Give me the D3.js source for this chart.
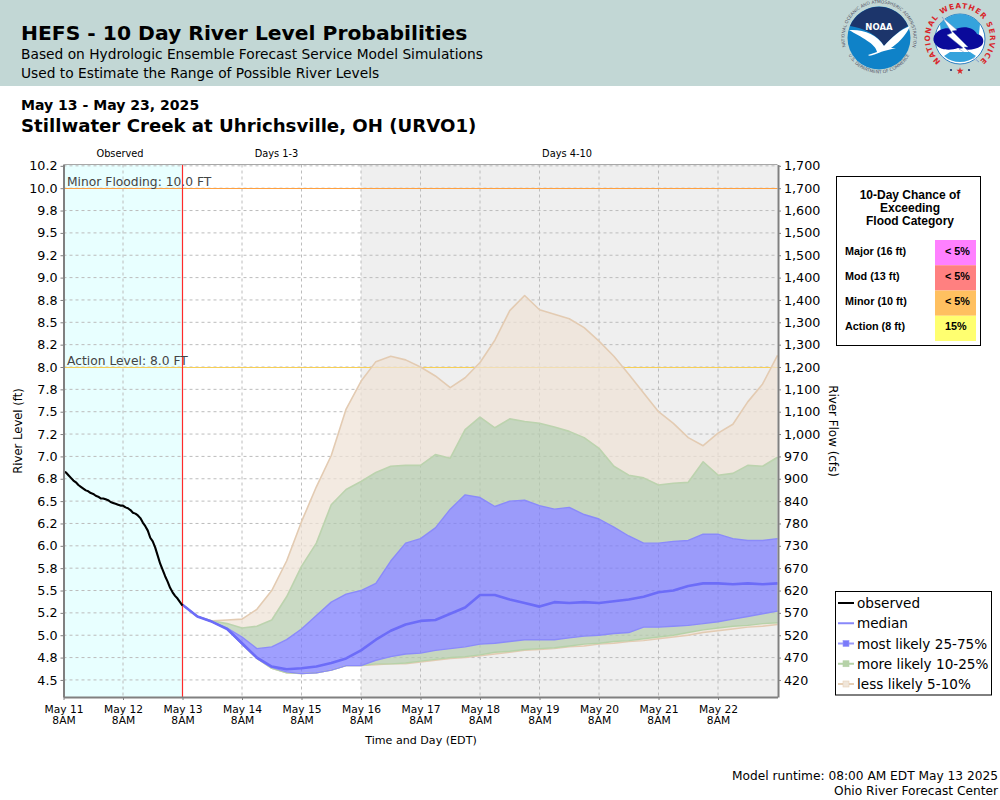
<!DOCTYPE html>
<html>
<head>
<meta charset="utf-8">
<script src="https://cdnjs.cloudflare.com/ajax/libs/d3/7.8.5/d3.min.js"></script>
<style>
html,body{margin:0;padding:0;background:#fff}
svg{display:block;font-family:"DejaVu Sans",sans-serif}
text{fill:#000}
</style>
</head>
<body>
<div id="chart"></div>
<script>
// ---- data ----
const observedHours = d3.range(0, 49);
const observed = [6.83,6.82,6.79,6.76,6.73,6.71,6.68,6.66,6.64,6.62,6.61,6.59,6.58,6.56,6.55,6.53,6.53,6.52,6.51,6.49,6.48,6.47,6.46,6.45,6.45,6.43,6.42,6.40,6.37,6.36,6.34,6.31,6.26,6.22,6.17,6.09,6.05,5.98,5.89,5.80,5.73,5.66,5.60,5.53,5.48,5.44,5.41,5.37,5.33];
const forecastHours = d3.range(48, 289, 6);
const p95 = [5.34,5.21,5.16,5.17,5.18,5.29,5.50,5.83,6.27,6.66,7.01,7.53,7.84,8.06,8.12,8.08,8.00,7.90,7.77,7.88,8.05,8.30,8.63,8.80,8.64,8.59,8.54,8.44,8.29,8.12,7.92,7.71,7.50,7.37,7.21,7.12,7.26,7.36,7.61,7.81,8.13];
const p90 = [5.34,5.21,5.16,5.13,5.08,5.10,5.17,5.43,5.77,6.03,6.46,6.63,6.72,6.82,6.89,6.90,6.90,7.02,6.98,7.30,7.44,7.32,7.42,7.39,7.37,7.33,7.28,7.21,7.09,6.89,6.79,6.76,6.68,6.70,6.71,6.94,6.79,6.81,6.90,6.89,6.99];
const p75 = [5.34,5.21,5.15,5.08,4.98,4.85,4.87,4.95,5.07,5.22,5.37,5.46,5.50,5.58,5.83,6.03,6.08,6.20,6.41,6.57,6.54,6.44,6.50,6.51,6.45,6.41,6.43,6.35,6.30,6.21,6.11,6.03,6.03,6.05,6.06,6.13,6.13,6.08,6.06,6.06,6.08];
const median = [5.34,5.21,5.15,5.07,4.91,4.75,4.65,4.62,4.63,4.65,4.69,4.74,4.83,4.95,5.05,5.12,5.16,5.17,5.24,5.31,5.45,5.45,5.40,5.36,5.32,5.37,5.36,5.37,5.36,5.38,5.40,5.43,5.48,5.50,5.55,5.58,5.58,5.57,5.58,5.57,5.58];
const p25 = [5.34,5.21,5.15,5.07,4.90,4.74,4.64,4.59,4.57,4.58,4.61,4.66,4.66,4.72,4.76,4.79,4.80,4.83,4.85,4.87,4.90,4.91,4.93,4.95,4.95,4.95,4.97,4.99,5.00,5.02,5.03,5.09,5.09,5.10,5.11,5.13,5.15,5.18,5.21,5.24,5.27];
const p10 = [5.34,5.21,5.15,5.07,4.90,4.74,4.63,4.58,4.57,4.58,4.61,4.66,4.66,4.68,4.68,4.69,4.71,4.73,4.75,4.76,4.78,4.81,4.82,4.84,4.85,4.86,4.88,4.90,4.91,4.93,4.94,4.96,4.98,5.00,5.03,5.06,5.08,5.10,5.11,5.13,5.14];
const p5  = [5.34,5.21,5.15,5.07,4.90,4.74,4.63,4.58,4.57,4.58,4.61,4.66,4.66,4.67,4.68,4.68,4.70,4.72,4.74,4.75,4.77,4.79,4.81,4.83,4.84,4.85,4.87,4.88,4.90,4.91,4.93,4.94,4.96,4.98,5.00,5.03,5.05,5.07,5.09,5.10,5.12];

const stageTicks  = [4.5,4.75,5,5.25,5.5,5.75,6,6.25,6.5,6.75,7,7.25,7.5,7.75,8,8.25,8.5,8.75,9,9.25,9.5,9.75,10,10.25];
const stageLabels = ["4.5","4.8","5.0","5.2","5.5","5.8","6.0","6.2","6.5","6.8","7.0","7.2","7.5","7.8","8.0","8.2","8.5","8.8","9.0","9.2","9.5","9.8","10.0","10.2"];
const flowLabels  = ["420","470","520","570","620","670","730","780","840","900","970","1,000","1,100","1,100","1,200","1,300","1,300","1,400","1,400","1,500","1,500","1,600","1,700","1,700"];
const dayHours  = [0,24,48,72,96,120,144,168,192,216,240,264];
const dayLabels = ["May 11","May 12","May 13","May 14","May 15","May 16","May 17","May 18","May 19","May 20","May 21","May 22"];
const legendNames = ["observed","median","most likely 25-75%","more likely 10-25%","less likely 5-10%"];
const floodNames  = ["Major (16 ft)","Mod (13 ft)","Minor (10 ft)","Action (8 ft)"];
const floodChance = ["< 5%","< 5%","< 5%","15%"];
const floodColors = ["#ff80ff","#ff8080","#ffc060","#ffff70"];

// ---- scales ----
const svg = d3.select("#chart").append("svg").attr("width",1000).attr("height",800);
const x = d3.scaleLinear().domain([0,288]).range([63.5,777.5]);
const y = d3.scaleLinear().domain([4.309,10.265]).range([697,164.5]);

// ---- header ----
svg.append("rect").attr("width",1000).attr("height",86).attr("fill","#c2d7d5");
const T=(s,px,py,size,weight,anchor,fam,col)=>svg.append("text").attr("x",px).attr("y",py).attr("font-size",size)
  .attr("font-weight",weight||"normal").attr("text-anchor",anchor||"start").attr("font-family",fam||null).style("fill",col||"#000").text(s);
T("HEFS - 10 Day River Level Probabilities",21,40,20.3,"bold");
T("Based on Hydrologic Ensemble Forecast Service Model Simulations",21,59,13.77);
T("Used to Estimate the Range of Possible River Levels",21,78,13.77);
T("May 13 - May 23, 2025",21,110,14.05,"bold");
T("Stillwater Creek at Uhrichsville, OH (URVO1)",21,132,18.15,"bold");

// ---- logos ----
const noaa = svg.append("g").attr("transform","translate(879,38)");
noaa.append("circle").attr("r",31.5).attr("fill","#0f82c8");
noaa.append("path").attr("d","M-29,-12 A31.5,31.5 0 0 1 29,-12 C22,-9 12,0 5,8 C-2,-4 -16,-10 -29,-12Z").attr("fill","#1c356b");
noaa.append("path").attr("d","M-30,-8 C-16,-9 -2,-4 5,8 C12,0 22,-9 31,-12 C27,-2 18,6 12,10 L17,10 L5,13 C-4,16 -9,19 -11,17 L-2,14 C-3,6 -18,-1 -30,-8Z").attr("fill","#fff");
noaa.append("text").attr("y",-8).attr("text-anchor","middle").attr("font-size",8.5).attr("font-weight","bold").style("fill","#fff").text("NOAA");
noaa.append("defs").append("path").attr("id","noaaTop").attr("d","M-33.5,8 A34.5,34.5 0 1 1 33.5,8");
noaa.append("defs").append("path").attr("id","noaaBot").attr("d","M-31,16 A34.5,34.5 0 0 0 31,16");
noaa.append("text").attr("font-size",4.4).style("fill","#556").append("textPath").attr("href","#noaaTop").attr("startOffset","50%").attr("text-anchor","middle").text("NATIONAL OCEANIC AND ATMOSPHERIC ADMINISTRATION");
noaa.append("text").attr("font-size",4.4).style("fill","#556").append("textPath").attr("href","#noaaBot").attr("startOffset","50%").attr("text-anchor","middle").text("U.S. DEPARTMENT OF COMMERCE");

const nws = svg.append("g").attr("transform","translate(960,39)");
nws.append("circle").attr("r",25).attr("fill","#fff").attr("stroke","#2f7fc0").attr("stroke-width",1);
nws.append("path").attr("d","M-20,-15 A25,25 0 0 1 20,-15 L18,4 L-18,4Z").attr("fill","#35a3dc");
nws.append("path").attr("d","M-26,-3 C-21,-12 -10,-12 -6,-9 C2,-14 14,-12 17,-5 C24,-4 25,4 21,7 C14,12 4,11 -2,9 C-10,12 -20,11 -24,6 C-27,3 -27,0 -26,-3Z").attr("fill","#0a0a9a");
nws.append("path").attr("d","M-18,-22 L-3,-9 L-8,-8 L8,8 L4,8 L19,23 L-1,10 L3,9 L-13,-4 L-8,-6Z").attr("fill","#fff").attr("stroke","#6a8ac0").attr("stroke-width",.5);
nws.append("path").attr("d","M-16,17 A24,24 0 0 0 16,17 L10,13 L-10,13Z").attr("fill","#35a3dc");
nws.append("defs").append("path").attr("id","nwsArc").attr("d","M-17,24 A30,30 0 1 1 17,24");
nws.append("text").attr("font-size",7.4).attr("font-weight","bold").attr("letter-spacing",1).style("fill","#d9252a").append("textPath").attr("href","#nwsArc").attr("startOffset","50%").attr("text-anchor","middle").text("NATIONAL WEATHER SERVICE");
nws.append("path").attr("d",d3.symbol(d3.symbolStar,16)()).attr("transform","translate(0,32)").attr("fill","#d9252a");
nws.selectAll("circle.d").data([-9,9]).join("circle").attr("cx",d=>d).attr("cy",31).attr("r",1.1).attr("fill","#1c356b");

// ---- plot background ----
svg.append("rect").attr("x",x(0)).attr("y",y.range()[1]).attr("width",x(48)-x(0)).attr("height",697-164.5).attr("fill","#e8ffff");
svg.append("rect").attr("x",x(120)).attr("y",y.range()[1]).attr("width",x(288)-x(120)).attr("height",697-164.5).attr("fill","#efefef");

// grid
const gridG = svg.append("g").attr("stroke","#bcbcbc").attr("stroke-width",1).attr("stroke-dasharray","3,3");
gridG.selectAll("line.h").data(stageTicks).join("line").attr("x1",x(0)).attr("x2",x(288)).attr("y1",d=>y(d)).attr("y2",d=>y(d));
gridG.selectAll("line.v").data(dayHours).join("line").attr("x1",d=>x(d)).attr("x2",d=>x(d)).attr("y1",164.5).attr("y2",697);

// threshold lines
svg.append("line").attr("x1",x(0)).attr("x2",x(288)).attr("y1",188.5).attr("y2",188.5).attr("stroke","#ffa040").attr("stroke-width",1);
svg.append("line").attr("x1",x(0)).attr("x2",x(288)).attr("y1",367.5).attr("y2",367.5).attr("stroke","#f7cf55").attr("stroke-width",1);

// ---- bands ----
const band=(lo,hi,fill)=>svg.append("path").attr("fill",fill).attr("d",d3.area().x((d,i)=>x(forecastHours[i])).y0((d,i)=>y(lo[i])).y1((d,i)=>y(hi[i]))(forecastHours));
const tan="rgba(238,226,213,.72)", green="rgba(182,204,173,.72)", blue="rgba(122,122,253,.72)";
band(p90,p95,tan); band(p5,p10,tan);
band(p75,p90,green); band(p10,p25,green);
band(p25,p75,blue);
const lineOf=(vals,col,w)=>svg.append("path").attr("fill","none").attr("stroke",col).attr("stroke-width",w).attr("stroke-linejoin","round")
  .attr("d",d3.line().x((d,i)=>x(forecastHours[i])).y(d=>y(d))(vals));
lineOf(p5,"#e3cbb2",1.4); lineOf(p95,"#e3cbb2",1.6);
lineOf(p10,"#b6d2a8",1.4); lineOf(p90,"#bcd3ae",1.6);
lineOf(p25,"#8a8afa",1.4); lineOf(p75,"#8a8afa",1.4);
lineOf(median,"#6c6cf8",2.6);

// observed + forecast divider
svg.append("line").attr("x1",x(48)).attr("x2",x(48)).attr("y1",164.5).attr("y2",697).attr("stroke","#ff2a2a").attr("stroke-width",1.2);
svg.append("path").attr("fill","none").attr("stroke","#000").attr("stroke-width",2.1).attr("stroke-linejoin","round")
  .attr("d",d3.line().x((d,i)=>x(observedHours[i])).y(d=>y(d))(observed));

// threshold labels
T("Minor Flooding: 10.0 FT",67,186,12.3,"normal","start",null,"#444");
T("Action Level: 8.0 FT",67,365,12.3,"normal","start",null,"#444");

// ---- axes ----
const styleAxis=(g)=>{g.select(".domain").attr("stroke","#808080").attr("stroke-width",2);
  g.selectAll(".tick line").attr("stroke","#808080").attr("stroke-width",1);
  g.selectAll("text").attr("font-family","DejaVu Sans").style("fill","#000");};
const left = svg.append("g").attr("transform","translate(63.5,0)")
  .call(d3.axisLeft(y).tickValues(stageTicks).tickSizeInner(3).tickSizeOuter(0).tickPadding(3).tickFormat(d=>stageLabels[stageTicks.indexOf(d)]));
left.call(styleAxis).selectAll("text").attr("font-size",12.7);
const right = svg.append("g").attr("transform","translate(778,0)")
  .call(d3.axisRight(y).tickValues(stageTicks).tickSizeInner(3).tickSizeOuter(0).tickPadding(3).tickFormat(d=>flowLabels[stageTicks.indexOf(d)]));
right.call(styleAxis).selectAll("text").attr("font-size",12.7);
const bottom = svg.append("g").attr("transform","translate(0,697)")
  .call(d3.axisBottom(x).tickValues(dayHours).tickSizeInner(3).tickSizeOuter(0).tickPadding(6).tickFormat(""));
bottom.call(styleAxis);
bottom.selectAll(".tick text").attr("font-size",10.7).each(function(d){
  const t=d3.select(this); t.text(null).attr("y",null).attr("dy",null);
  t.append("tspan").attr("x",0).attr("y",15.5).text(dayLabels[dayHours.indexOf(d)]);
  t.append("tspan").attr("x",0).attr("y",27).text("8AM");
});
// top spine
svg.append("line").attr("x1",x(0)).attr("x2",x(288)).attr("y1",164.5).attr("y2",164.5).attr("stroke","#a8a8a8").attr("stroke-width",1);

// region labels, axis titles
T("Observed",120,157,9.8,"normal","middle");
T("Days 1-3",276.5,157,9.8,"normal","middle");
T("Days 4-10",567,157,9.8,"normal","middle");
svg.append("text").attr("transform","translate(22,431) rotate(-90)").attr("text-anchor","middle").attr("font-size",11.6).text("River Level (ft)");
svg.append("text").attr("transform","translate(828.5,431) rotate(90)").attr("text-anchor","middle").attr("font-size",11.9).text("River Flow (cfs)");
T("Time and Day (EDT)",421,744,11.1,"normal","middle");
T("Model runtime: 08:00 AM EDT May 13 2025",998,780,12.2,"normal","end");
T("Ohio River Forecast Center",998,795,12.2,"normal","end");

// ---- flood table ----
svg.append("rect").attr("x",836.5).attr("y",176.5).attr("width",144).attr("height",169).attr("fill","#fff").attr("stroke","#000").attr("stroke-width",1);
const LS='"Liberation Sans",Arial,sans-serif';
["10-Day Chance of","Exceeding","Flood Category"].forEach((s,i)=>T(s,910,199+i*13,12,"bold","middle",LS));
const rowY=d3.scaleBand().domain(floodNames).range([240,341]);
svg.selectAll("rect.fc").data(floodNames).join("rect").attr("x",935).attr("width",41).attr("y",d=>rowY(d)).attr("height",rowY.bandwidth()).attr("fill",(d,i)=>floodColors[i]);
floodNames.forEach((n,i)=>{
  T(n,845,rowY(n)+14.6,10.8,"bold","start",LS);
  T(floodChance[i],945,rowY(n)+14.6,10.8,"bold","start",LS);
});

// ---- legend ----
svg.append("rect").attr("x",835.5).attr("y",591.5).attr("width",156).attr("height",103.5).attr("fill","#fff").attr("stroke","#000").attr("stroke-width",1);
const legY=d3.scalePoint().domain(legendNames).range([603,684]);
const legLine=["#000","#8888fa","#9a9afa","#b6d2a8","#e6cfb6"], legFill=[null,null,"#7a7afa","#b6d2a8","#f0e6da"];
legendNames.forEach((n,i)=>{
  const yy=legY(n);
  svg.append("line").attr("x1",838).attr("x2",854).attr("y1",yy).attr("y2",yy).attr("stroke",legLine[i]).attr("stroke-width",2);
  if(legFill[i]) svg.append("rect").attr("x",843).attr("y",yy-3).attr("width",6).attr("height",6).attr("fill",legFill[i]).attr("stroke",legLine[i]).attr("stroke-width",.6);
  T(n,857,yy+5,13.6);
});
</script>
</body>
</html>
